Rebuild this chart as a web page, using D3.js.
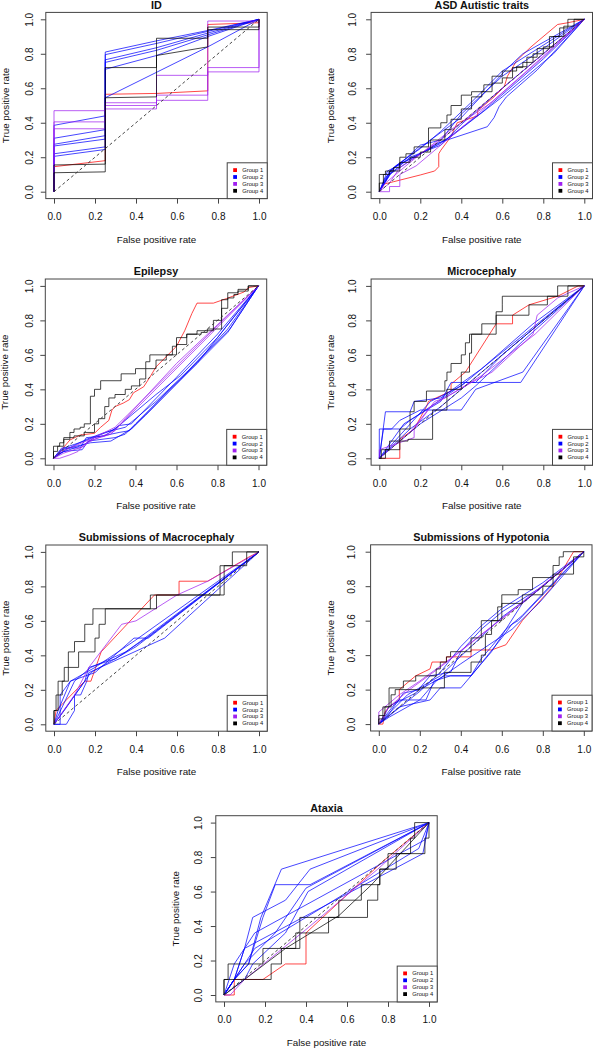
<!DOCTYPE html>
<html><head><meta charset="utf-8">
<script src="https://cdn.jsdelivr.net/npm/d3@7"></script>
<style>
body{margin:0;background:#fff}
svg{display:block}
text{font-family:"Liberation Sans",Arial,Helvetica,sans-serif;fill:#111}
</style>
</head><body>
<svg id="chart" width="594" height="1050"></svg>
<script>
// ---------------- data ----------------
const panelTitles = ["ID","ASD Autistic traits","Epilepsy","Microcephaly",
  "Submissions of Macrocephaly","Submissions of Hypotonia","Ataxia"];
const groupNames = ["Group 1","Group 2","Group 3","Group 4"];
const groupColors = ["#ff0000","#0000ff","#a020f0","#000000"];
const tickValues = [0,0.2,0.4,0.6,0.8,1.0];
const tickLabels = ["0.0","0.2","0.4","0.6","0.8","1.0"];
const xLabel = "False positive rate";
const yLabel = "True positive rate";

// each curve: [group index (0..3), step flag (1 = staircase), [[fpr, tpr], ...]]
const idCurves = [
  [0,0,[[0,0],[0,0.145],[0.25,0.18],[0.25,0.565],[0.5,0.57],[0.75,0.585],[0.75,0.97],[1,0.98],[1,1]]],
  [1,0,[[0,0],[0,0.385],[0.25,0.44],[0.25,0.81],[0.5,0.875],[0.75,0.935],[1,1]]],
  [1,0,[[0,0],[0,0.31],[0.25,0.36],[0.25,0.795],[0.5,0.86],[0.75,0.93],[1,1]]],
  [1,0,[[0,0],[0,0.275],[0.25,0.325],[0.25,0.765],[0.5,0.835],[0.75,0.92],[1,1]]],
  [1,0,[[0,0],[0,0.265],[0.25,0.305],[0.25,0.75],[0.5,0.82],[0.75,0.91],[1,1]]],
  [1,0,[[0,0],[0,0.22],[0.25,0.26],[0.25,0.71],[0.5,0.79],[0.75,0.9],[1,1]]],
  [1,0,[[0,0],[0,0.205],[0.25,0.245],[0.25,0.545],[0.75,0.84],[1,1]]],
  [2,0,[[0,0],[0,0.47],[0.25,0.47],[0.25,0.48],[0.5,0.48],[0.5,0.675],[0.75,0.675],[0.75,0.99],[1,0.99],[1,1]]],
  [2,0,[[0,0],[0,0.405],[0.25,0.405],[0.25,0.5],[0.5,0.5],[0.5,0.53],[0.75,0.53],[0.75,0.72],[1,0.72],[1,1]]],
  [2,0,[[0,0],[0,0.365],[0.25,0.365],[0.25,0.516],[0.5,0.516],[0.5,0.56],[0.75,0.56],[0.75,0.695],[1,0.695],[1,1]]],
  [3,0,[[0,0],[0,0.11],[0.25,0.115],[0.25,0.72],[0.5,0.72],[0.5,0.89],[0.75,0.89],[0.75,0.955],[1,0.955],[1,1]]],
  [3,0,[[0,0],[0,0.155],[0.25,0.16],[0.25,0.545],[0.5,0.55],[0.5,0.79],[0.75,0.84],[0.75,0.94],[1,0.94],[1,1]]]
];
const asdCurves = [
  [0,0,[[0,0],[0.025,0.045],[0.07,0.058],[0.2,0.097],[0.27,0.12],[0.29,0.145],[0.29,0.22],[0.3,0.24],[0.35,0.32],[0.38,0.4],[0.48,0.44],[0.48,0.47],[0.56,0.55],[0.61,0.61],[0.625,0.67],[0.67,0.76],[0.74,0.84],[0.87,0.97],[0.92,0.98],[1,1]]],
  [1,0,[[0,0],[0.05,0.12],[0.1,0.16],[0.2,0.27],[0.3,0.3],[0.4,0.45],[0.6,0.67],[0.8,0.83],[1,1]]],
  [1,0,[[0,0],[0.03,0.08],[0.08,0.15],[0.2,0.25],[0.3,0.35],[0.45,0.52],[0.6,0.7],[0.8,0.85],[1,1]]],
  [1,0,[[0,0],[0.05,0.1],[0.15,0.2],[0.3,0.27],[0.4,0.39],[0.6,0.6],[0.8,0.8],[1,1]]],
  [1,0,[[0,0],[0.05,0.1],[0.15,0.18],[0.28,0.28],[0.527,0.377],[0.56,0.43],[0.584,0.493],[0.62,0.55],[0.77,0.706],[1,1]]],
  [1,0,[[0,0],[0.08,0.15],[0.3,0.28],[0.5,0.46],[0.8,0.77],[1,1]]],
  [1,0,[[0,0],[0.04,0.12],[0.2,0.22],[0.35,0.32],[0.6,0.55],[0.85,0.8],[1,1]]],
  [1,0,[[0,0],[0.06,0.13],[0.25,0.3],[0.4,0.43],[0.55,0.62],[0.625,0.716],[0.7,0.8],[1,1]]],
  [2,0,[[0,0],[0.05,0],[0.05,0.03],[0.1,0.03],[0.1,0.1],[0.18,0.15],[0.3,0.27],[0.5,0.47],[0.7,0.68],[1,1]]],
  [2,0,[[0,0],[0.05,0.05],[0.1,0.14],[0.3,0.3],[0.45,0.45],[0.7,0.7],[1,1]]],
  [2,0,[[0,0],[0.03,0.05],[0.15,0.17],[0.35,0.36],[0.55,0.52],[0.8,0.78],[1,1]]],
  [3,1,[[0,0],[0.03,0.1],[0.07,0.12],[0.1,0.14],[0.13,0.2],[0.17,0.22],[0.24,0.26],[0.3,0.37],[0.33,0.4],[0.35,0.445],[0.4,0.5],[0.45,0.56],[0.51,0.58],[0.55,0.62],[0.6,0.67],[0.67,0.7],[0.72,0.725],[0.77,0.78],[0.83,0.83],[0.88,0.9],[0.92,0.95],[1,1]]],
  [3,1,[[0,0],[0.02,0.05],[0.05,0.1],[0.1,0.12],[0.15,0.17],[0.2,0.2],[0.25,0.23],[0.27,0.3],[0.32,0.3],[0.35,0.36],[0.4,0.42],[0.45,0.48],[0.5,0.55],[0.55,0.58],[0.6,0.63],[0.65,0.66],[0.7,0.72],[0.75,0.75],[0.8,0.8],[0.85,0.84],[0.9,0.9],[0.95,0.96],[1,1]]]
];
const epiCurves = [
  [0,0,[[0,0],[0.04,0.05],[0.08,0.106],[0.13,0.135],[0.2,0.145],[0.23,0.18],[0.27,0.22],[0.285,0.28],[0.3,0.3],[0.34,0.32],[0.37,0.34],[0.39,0.38],[0.44,0.415],[0.47,0.47],[0.5,0.53],[0.55,0.59],[0.6,0.65],[0.64,0.74],[0.675,0.84],[0.7,0.9],[0.78,0.9],[0.845,0.927],[0.93,0.965],[0.95,0.99],[1,1]]],
  [1,0,[[0,0],[0.04,0.06],[0.13,0.06],[0.16,0.12],[0.25,0.13],[0.32,0.19],[0.38,0.2],[0.6,0.47],[0.8,0.72],[1,1]]],
  [1,0,[[0,0],[0.05,0.04],[0.14,0.05],[0.17,0.1],[0.3,0.12],[0.35,0.14],[0.4,0.2],[0.62,0.46],[0.85,0.75],[1,1]]],
  [1,0,[[0,0],[0.03,0.03],[0.15,0.08],[0.2,0.12],[0.32,0.15],[0.37,0.16],[0.45,0.25],[0.6,0.43],[0.85,0.73],[1,1]]],
  [1,0,[[0,0],[0.06,0.05],[0.16,0.11],[0.25,0.15],[0.35,0.18],[0.5,0.33],[0.65,0.5],[0.86,0.75],[1,1]]],
  [1,0,[[0,0],[0.04,0.05],[0.18,0.09],[0.28,0.1],[0.38,0.17],[0.55,0.38],[0.7,0.55],[1,1]]],
  [1,0,[[0,0],[0.05,0.06],[0.15,0.1],[0.3,0.17],[0.5,0.37],[0.62,0.48],[0.8,0.7],[1,1]]],
  [2,0,[[0,0],[0.03,0],[0.08,0.02],[0.12,0.04],[0.15,0.08],[0.2,0.11],[0.3,0.16],[0.35,0.23],[0.6,0.55],[1,1]]],
  [2,0,[[0,0],[0.05,0.03],[0.15,0.07],[0.17,0.1],[0.28,0.14],[0.33,0.2],[0.7,0.64],[1,1]]],
  [2,0,[[0,0],[0.04,0.04],[0.18,0.11],[0.3,0.18],[0.36,0.25],[0.8,0.77],[1,1]]],
  [3,1,[[0,0],[0.03,0.07],[0.05,0.09],[0.08,0.11],[0.1,0.15],[0.13,0.17],[0.15,0.18],[0.18,0.2],[0.2,0.36],[0.23,0.4],[0.33,0.45],[0.4,0.49],[0.45,0.52],[0.47,0.56],[0.58,0.6],[0.6,0.65],[0.65,0.7],[0.72,0.72],[0.75,0.73],[0.82,0.75],[0.85,0.87],[0.88,0.93],[0.9,0.95],[0.95,0.97],[0.97,1],[1,1]]],
  [3,1,[[0,0],[0.02,0.04],[0.05,0.07],[0.1,0.12],[0.15,0.13],[0.2,0.15],[0.22,0.2],[0.25,0.23],[0.27,0.3],[0.3,0.35],[0.35,0.37],[0.38,0.4],[0.42,0.42],[0.45,0.46],[0.5,0.52],[0.55,0.57],[0.6,0.6],[0.65,0.66],[0.7,0.72],[0.78,0.74],[0.82,0.8],[0.85,0.92],[0.9,0.96],[0.95,0.98],[1,1]]]
];
const microCurves = [
  [0,0,[[0,0],[0.1,0],[0.1,0.11],[0.17,0.17],[0.23,0.3],[0.24,0.33],[0.35,0.39],[0.35,0.43],[0.42,0.5],[0.57,0.78],[0.65,0.78],[0.65,0.83],[0.73,0.89],[0.87,0.94],[0.97,1],[1,1]]],
  [1,0,[[0,0],[0.03,0.27],[0.15,0.27],[0.17,0.33],[0.3,0.35],[0.5,0.52],[1,1]]],
  [1,0,[[0,0],[0,0.17],[0.1,0.17],[0.15,0.22],[0.25,0.3],[0.42,0.44],[0.69,0.44],[1,1]]],
  [1,0,[[0,0],[0.02,0.17],[0.06,0.17],[0.1,0.22],[0.2,0.28],[0.4,0.28],[0.47,0.4],[0.7,0.5],[1,1]]],
  [1,0,[[0,0],[0.15,0.17],[0.3,0.3],[0.45,0.45],[0.7,0.7],[1,1]]],
  [1,0,[[0,0],[0.12,0.2],[0.3,0.33],[0.35,0.44],[0.47,0.44],[0.6,0.6],[1,1]]],
  [1,0,[[0,0],[0.2,0.2],[0.4,0.35],[0.47,0.42],[0.7,0.68],[1,1]]],
  [1,0,[[0,0],[0.25,0.33],[0.4,0.42],[0.5,0.52],[0.75,0.78],[1,1]]],
  [2,0,[[0,0],[0,0.05],[0.17,0.12],[0.17,0.17],[0.27,0.33],[0.32,0.35],[0.45,0.44],[0.55,0.5],[0.75,0.72],[0.77,0.83],[0.87,0.93],[1,1]]],
  [2,0,[[0,0],[0.15,0.15],[0.25,0.3],[0.5,0.48],[0.76,0.72],[1,1]]],
  [3,1,[[0,0],[0.01,0],[0.05,0.05],[0.1,0.1],[0.15,0.17],[0.17,0.27],[0.23,0.33],[0.32,0.39],[0.33,0.45],[0.35,0.5],[0.4,0.55],[0.42,0.6],[0.44,0.67],[0.5,0.72],[0.57,0.78],[0.6,0.85],[0.6,0.89],[0.87,0.94],[1,1]]],
  [3,1,[[0,0],[0.03,0],[0.1,0.05],[0.14,0.1],[0.26,0.11],[0.33,0.28],[0.4,0.4],[0.44,0.5],[0.45,0.61],[0.5,0.72],[0.57,0.72],[0.73,0.83],[0.82,0.89],[0.92,0.94],[1,1]]]
];
const macroCurves = [
  [0,0,[[0,0],[0.01,0.08],[0.15,0.25],[0.18,0.25],[0.23,0.42],[0.49,0.75],[0.61,0.75],[0.61,0.83],[0.75,0.83],[0.95,0.97],[1,1]]],
  [1,0,[[0,0],[0.06,0],[0.1,0.08],[0.1,0.17],[0.13,0.17],[0.16,0.25],[0.17,0.3],[0.54,0.5],[1,1]]],
  [1,0,[[0,0],[0.03,0],[0.03,0.17],[0.08,0.25],[0.2,0.3],[0.39,0.5],[0.46,0.5],[1,1]]],
  [1,0,[[0,0],[0.02,0.08],[0.08,0.25],[0.2,0.33],[0.4,0.49],[1,1]]],
  [1,0,[[0,0],[0.04,0.1],[0.1,0.25],[0.18,0.33],[0.35,0.42],[0.42,0.48],[1,1]]],
  [1,0,[[0,0],[0.03,0.05],[0.15,0.25],[0.17,0.33],[0.3,0.38],[0.45,0.5],[1,1]]],
  [1,0,[[0,0],[0.05,0.08],[0.12,0.2],[0.18,0.3],[0.4,0.45],[1,1]]],
  [2,0,[[0,0],[0.1,0.17],[0.17,0.33],[0.33,0.58],[0.4,0.6],[0.6,0.75],[0.75,0.83],[1,1]]],
  [3,1,[[0,0],[0.02,0.08],[0.05,0.25],[0.07,0.33],[0.1,0.42],[0.15,0.48],[0.19,0.58],[0.47,0.67],[0.81,0.75],[0.87,0.92],[1,1]]],
  [3,1,[[0,0],[0.01,0.08],[0.04,0.17],[0.07,0.25],[0.12,0.33],[0.2,0.42],[0.22,0.5],[0.25,0.58],[0.5,0.67],[0.83,0.75],[0.94,0.92],[1,1]]]
];
const hypoCurves = [
  [0,0,[[0,0],[0.02,0],[0.03,0.07],[0.05,0.1],[0.1,0.14],[0.1,0.2],[0.12,0.22],[0.18,0.28],[0.25,0.32],[0.26,0.36],[0.33,0.36],[0.33,0.39],[0.45,0.39],[0.45,0.43],[0.55,0.43],[0.62,0.46],[0.7,0.6],[0.85,0.8],[0.95,1],[1,1]]],
  [1,0,[[0,0],[0.05,0.1],[0.1,0.14],[0.2,0.14],[0.23,0.14],[0.27,0.25],[0.35,0.28],[0.45,0.28],[0.5,0.38],[0.55,0.45],[0.62,0.55],[0.7,0.7],[1,1]]],
  [1,0,[[0,0],[0.1,0.1],[0.25,0.14],[0.3,0.21],[0.4,0.21],[0.5,0.35],[0.55,0.42],[0.62,0.55],[0.7,0.63],[0.85,0.82],[1,1]]],
  [1,0,[[0,0],[0.05,0.06],[0.12,0.18],[0.2,0.2],[0.32,0.28],[0.45,0.28],[0.6,0.5],[0.65,0.58],[0.68,0.6],[1,1]]],
  [1,0,[[0,0],[0.08,0.12],[0.18,0.18],[0.25,0.28],[0.35,0.3],[0.4,0.42],[0.5,0.55],[0.6,0.65],[0.8,0.8],[1,1]]],
  [1,0,[[0,0],[0.2,0.19],[0.3,0.3],[0.4,0.45],[0.5,0.57],[0.6,0.67],[0.8,0.82],[1,1]]],
  [1,0,[[0,0],[0.04,0.05],[0.14,0.17],[0.3,0.28],[0.45,0.45],[0.6,0.62],[0.75,0.75],[1,1]]],
  [1,0,[[0,0],[0.05,0.04],[0.2,0.14],[0.28,0.25],[0.4,0.35],[0.65,0.55],[0.78,0.7],[1,1]]],
  [2,0,[[0,0],[0,0.07],[0.03,0.1],[0.1,0.17],[0.2,0.25],[0.35,0.38],[0.5,0.52],[0.7,0.7],[1,1]]],
  [2,0,[[0,0],[0.05,0.1],[0.15,0.2],[0.3,0.33],[0.45,0.47],[0.65,0.66],[1,1]]],
  [3,1,[[0,0],[0.02,0.03],[0.05,0.1],[0.12,0.21],[0.18,0.25],[0.28,0.28],[0.3,0.32],[0.33,0.36],[0.35,0.39],[0.45,0.42],[0.5,0.5],[0.58,0.6],[0.6,0.68],[0.68,0.75],[0.75,0.78],[0.85,0.85],[0.88,0.92],[0.9,0.97],[1,1]]],
  [3,1,[[0,0],[0.03,0.05],[0.06,0.1],[0.08,0.17],[0.2,0.2],[0.32,0.21],[0.45,0.3],[0.5,0.36],[0.52,0.4],[0.55,0.52],[0.6,0.6],[0.7,0.7],[0.8,0.75],[0.85,0.8],[0.95,0.87],[1,0.97],[1,1]]]
];
const ataxiaCurves = [
  [0,0,[[0,0],[0.05,0],[0.05,0.09],[0.19,0.09],[0.3,0.18],[0.4,0.18],[0.4,0.36],[0.78,0.78],[1,1]]],
  [1,0,[[0,0],[0.05,0.09],[0.12,0.18],[0.18,0.45],[0.28,0.73],[1,1]]],
  [1,0,[[0,0],[0.05,0.09],[0.12,0.18],[0.19,0.45],[0.25,0.64],[0.42,0.64],[1,1]]],
  [1,0,[[0,0],[0.05,0.09],[0.1,0.27],[0.14,0.45],[0.3,0.55],[0.42,0.73],[1,1]]],
  [1,0,[[0,0],[0.05,0.09],[0.1,0.18],[0.25,0.36],[0.4,0.62],[1,1]]],
  [1,0,[[0,0],[0.1,0.09],[0.14,0.18],[0.3,0.36],[0.41,0.6],[1,1]]],
  [1,0,[[0,0],[0.05,0.09],[0.1,0.27],[0.97,0.82],[1,1]]],
  [1,0,[[0,0],[0.05,0.18],[0.15,0.36],[0.98,0.9],[1,1]]],
  [1,0,[[0,0],[0.15,0.27],[0.4,0.45],[0.95,0.85],[1,1]]],
  [2,0,[[0,0],[0.03,0],[0.1,0.09],[0.4,0.38],[0.75,0.73],[1,1]]],
  [3,0,[[0,0],[0.1,0.09],[0.3,0.27],[0.56,0.46],[0.72,0.64],[1,1]]],
  [3,1,[[0,0],[0.02,0.09],[0.19,0.18],[0.35,0.27],[0.37,0.36],[0.56,0.45],[0.67,0.55],[0.76,0.64],[0.8,0.73],[0.91,0.82],[0.93,0.91],[1,1]]],
  [3,1,[[0,0],[0.23,0.09],[0.28,0.18],[0.37,0.27],[0.51,0.36],[0.7,0.45],[0.75,0.55],[0.76,0.64],[0.84,0.73],[0.98,0.82],[1,0.91],[1,1]]]
];
const panelCurves = [idCurves, asdCurves, epiCurves, microCurves, macroCurves, hypoCurves, ataxiaCurves];

// ---------------- layout (pixel position of value 0 on each axis) ----------------
const panelOrigins = [[54,191.7],[379.3,191.7],[53.5,458.3],[379.3,458.3],[54,724.3],[378.8,724.1],[224,995]];
const yTickOffsets = [12.5,15.5,12.5,15.5,12.5,15.5,14];
const plotW = 205, plotH = 172.4;

const svg = d3.select("#chart");

panelOrigins.forEach((o, i) => {
  const [x0, y0] = o;
  const x = d3.scaleLinear().domain([-0.04, 1.04]).range([x0 - 0.04*plotW, x0 + 1.04*plotW]);
  const y = d3.scaleLinear().domain([-0.04, 1.04]).range([y0 + 0.04*plotH, y0 - 1.04*plotH]);
  const g = svg.append("g");
  const L = x(-0.04), R = x(1.04), T = y(1.04), B = y(-0.04);

  // curves
  const lineLin = d3.line().x(d => x(d[0])).y(d => y(d[1]));
  const lineStep = d3.line().x(d => x(d[0])).y(d => y(d[1])).curve(d3.curveStepBefore);
  g.append("g").selectAll("path").data(panelCurves[i]).join("path")
    .attr("d", c => (c[1] ? lineStep : lineLin)(c[2]))
    .attr("fill", "none")
    .attr("stroke", c => groupColors[c[0]])
    .attr("stroke-opacity", 0.72)
    .attr("stroke-width", 1);

  // diagonal reference
  g.append("path").attr("d", lineLin([[0,0],[1,1]]))
    .attr("stroke", "#333").attr("stroke-width", 0.9)
    .attr("stroke-dasharray", "3,2.6").attr("fill", "none");

  // box
  g.append("rect").attr("x", L).attr("y", T).attr("width", R - L).attr("height", B - T)
    .attr("fill", "none").attr("stroke", "#444").attr("stroke-width", 1);

  // x axis
  const ax = g.append("g").attr("transform", `translate(0,${B})`)
    .call(d3.axisBottom(x).tickValues(tickValues).tickFormat((d, k) => tickLabels[k])
      .tickSize(5).tickPadding(9.5).tickSizeOuter(0));
  ax.select(".domain").remove();
  ax.selectAll("line").attr("stroke", "#444");
  ax.selectAll("text").attr("font-size", 10).attr("fill", "#111")
    .attr("font-family", "Liberation Sans, Arial, sans-serif");

  // y axis
  const ay = g.append("g").attr("transform", `translate(${L},0)`)
    .call(d3.axisLeft(y).tickValues(tickValues).tickFormat((d, k) => tickLabels[k])
      .tickSize(5).tickSizeOuter(0));
  ay.select(".domain").remove();
  ay.selectAll("line").attr("stroke", "#444");
  ay.selectAll("text").attr("font-size", 10).attr("fill", "#111")
    .attr("font-family", "Liberation Sans, Arial, sans-serif")
    .attr("transform", "rotate(-90)").attr("x", 0).attr("y", -yTickOffsets[i]).attr("dy", 0)
    .attr("text-anchor", "middle");

  // labels
  g.append("text").attr("x", x(0.5)).attr("y", B + 44).attr("text-anchor", "middle")
    .attr("font-size", 9.8).text(xLabel);
  g.append("text").attr("transform", `translate(${L - 37},${y(0.5)}) rotate(-90)`)
    .attr("text-anchor", "middle").attr("font-size", 9.8).text(yLabel);
  g.append("text").attr("x", x(0.5)).attr("y", T - 3.8).attr("text-anchor", "middle")
    .attr("font-size", 10.8).attr("font-weight", "bold").text(panelTitles[i]);

  // legend
  const lw = 40, lh = 35.8;
  const lg = g.append("g").attr("transform", `translate(${R - lw},${B - lh})`);
  lg.append("rect").attr("width", lw).attr("height", lh).attr("fill", "#fff")
    .attr("stroke", "#444").attr("stroke-width", 1);
  groupNames.forEach((name, k) => {
    const cy = 7.3 + k * 6.9;
    lg.append("rect").attr("x", 6).attr("y", cy - 1.9).attr("width", 3.8).attr("height", 3.8)
      .attr("fill", groupColors[k]);
    lg.append("text").attr("x", 15).attr("y", cy + 2).attr("font-size", 5.8).attr("fill", "#333")
      .text(name);
  });
});
</script>
</body></html>
